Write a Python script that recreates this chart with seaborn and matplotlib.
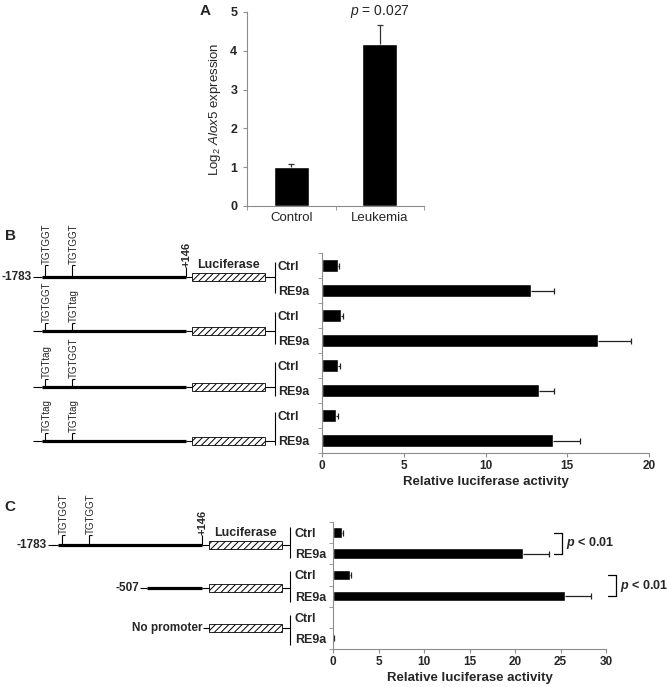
import matplotlib
matplotlib.use("Agg")
import matplotlib.pyplot as plt
import numpy as np
import pandas as pd
import seaborn as sns
from matplotlib.patches import Rectangle

# ---- data -------------------------------------------------------------
# panel A: Alox5 expression
expr_groups = ["Control", "Leukemia"]
expr_values = [1.0, 4.17]
expr_err = [0.08, 0.50]
expr_pval = "0.027"

# panel B: reporter with mutated TGTGGT sites
b_labels = ["Ctrl", "RE9a"] * 4
b_values = [1.0, 12.8, 1.15, 16.9, 1.0, 13.3, 0.85, 14.1]
b_err = [0.05, 1.4, 0.15, 2.0, 0.1, 0.9, 0.1, 1.7]
b_sites = [["TGTGGT", "TGTGGT"], ["TGTGGT", "TGTtag"],
           ["TGTtag", "TGTGGT"], ["TGTtag", "TGTtag"]]

# panel C: promoter deletions
c_labels = ["Ctrl", "RE9a"] * 3
c_values = [1.0, 20.9, 1.85, 25.5, 0.0, 0.1]
c_err = [0.1, 2.8, 0.15, 2.8, 0.0, 0.05]
c_constructs = ["-1783", "-507", "No promoter"]
c_pvals = ["< 0.01", "< 0.01"]

# ---- style ------------------------------------------------------------
sns.set_style("white")
plt.rcParams["font.family"] = ["Liberation Sans", "DejaVu Sans"]
plt.rcParams["mathtext.fontset"] = "custom"
plt.rcParams["mathtext.rm"] = "Liberation Sans"
plt.rcParams["mathtext.it"] = "Liberation Sans:italic"
plt.rcParams["mathtext.bf"] = "Liberation Sans:bold:italic"
plt.rcParams["hatch.linewidth"] = 0.7

W, H = 667, 687
GRAY = "#8c8c8c"
fig = plt.figure(figsize=(W / 100, H / 100), dpi=100)


def px_axes(left, top, right, bottom):
    return fig.add_axes([left / W, 1 - bottom / H, (right - left) / W, (bottom - top) / H])


# overlay in pixel coordinates for the construct diagrams
ov = fig.add_axes([0, 0, 1, 1])
ov.set_xlim(0, W)
ov.set_ylim(H, 0)
ov.axis("off")


def excel_spines(ax):
    sns.despine(ax=ax)
    for s in ("left", "bottom"):
        ax.spines[s].set_color(GRAY)
        ax.spines[s].set_linewidth(0.8)


# ---- panel A ----------------------------------------------------------
ax_a = px_axes(247, 12, 424, 206)
ax_a.set_facecolor("none")
df_a = pd.DataFrame({"group": expr_groups, "value": expr_values})
sns.barplot(data=df_a, x="group", y="value", color="black", saturation=1,
            width=0.4, errorbar=None, ax=ax_a)
# one-sided (upper) error bars
top_a = np.array(expr_values) + np.array(expr_err)
ax_a.vlines(range(len(expr_values)), expr_values, top_a, color="#333333", lw=0.9)
ax_a.plot(range(len(expr_values)), top_a, ls="none", marker="_", ms=4,
          mew=0.9, color="#333333")
ax_a.set_ylim(0, 5)
ax_a.set_xlim(-0.5, 1.5)
excel_spines(ax_a)
ax_a.set_yticks(range(6))
ax_a.set_yticklabels([str(i) for i in range(6)], fontsize=9, fontweight="bold")
ax_a.set_xticks(range(len(expr_groups)))
ax_a.set_xticklabels(expr_groups, fontsize=9.5)
ax_a.set_xticks([-0.5, 0.5, 1.5], minor=True)
ax_a.tick_params(axis="x", which="major", length=0, pad=4)
ax_a.tick_params(axis="x", which="minor", length=3, color=GRAY, direction="out", bottom=True)
ax_a.tick_params(axis="y", length=3, color=GRAY, direction="out", left=True, pad=4)
ax_a.set_xlabel("")
ax_a.set_ylabel(r"Log$_2$ $\mathit{Alox5}$ expression", fontsize=9.5, labelpad=5)
ax_a.text(1, 5.0, r"$\mathit{p}$ = " + expr_pval, ha="center", va="center", fontsize=10)
fig.text(205 / W, 1 - 11 / H, "A", fontsize=11, fontweight="bold", ha="center", va="center")


# ---- bar panels B and C ----------------------------------------------
def lucif_bars(ax, labels, values, err, xmax, label_pad):
    ax.set_facecolor("none")
    pos = np.arange(len(values))
    df = pd.DataFrame({"pos": pos, "value": values})
    sns.barplot(data=df, x="value", y="pos", orient="y", color="black",
                saturation=1, width=0.5, errorbar=None, ax=ax)
    v = np.array(values)
    e = np.array(err)
    keep = e > 0
    ax.hlines(pos[keep], v[keep], v[keep] + e[keep], color="#222222", lw=0.9)
    ax.plot(v[keep] + e[keep], pos[keep], ls="none", marker="|", ms=4,
            mew=0.9, color="#222222")
    ax.set_xlim(0, xmax)
    ax.set_ylim(len(values) - 0.5, -0.5)
    excel_spines(ax)
    ax.set_xticks(range(0, xmax + 1, 5))
    ax.set_xticklabels([str(t) for t in range(0, xmax + 1, 5)],
                       fontsize=8.5, fontweight="bold")
    ax.tick_params(axis="x", length=3, color=GRAY, direction="out", bottom=True, pad=2)
    ax.set_yticks(pos)
    ax.set_yticklabels(labels, fontsize=9, fontweight="bold", ha="left")
    ax.set_yticks(np.arange(-0.5, len(values), 1), minor=True)
    ax.tick_params(axis="y", which="major", length=0, pad=label_pad)
    ax.tick_params(axis="y", which="minor", length=3, color=GRAY, direction="out", left=True)
    ax.set_ylabel("")
    ax.set_xlabel("Relative luciferase activity", fontsize=9.5, fontweight="bold", labelpad=3)


ax_b = px_axes(322, 253, 649, 453)
lucif_bars(ax_b, b_labels, b_values, b_err, 20, 31.7)
fig.text(11 / W, 1 - 236 / H, "B", fontsize=11, fontweight="bold", ha="center", va="center")

ax_c = px_axes(333, 522, 606, 649)
lucif_bars(ax_c, c_labels, c_values, c_err, 30, 27.4)
fig.text(10 / W, 1 - 507 / H, "C", fontsize=11, fontweight="bold", ha="center", va="center")

# significance brackets in C
bracket_x = [25.2, 31.1]
for i, (bx, ptxt) in enumerate(zip(bracket_x, c_pvals)):
    y0, y1 = 2 * i, 2 * i + 1
    ax_c.plot([bx - 0.9, bx, bx, bx - 0.9], [y0, y0, y1, y1], color="black",
              lw=0.9, clip_on=False)
    ax_c.text(bx + 0.4, (y0 + y1) / 2, r"$\mathbf{p}$ " + ptxt, ha="left", va="center",
              fontsize=9, fontweight="bold", clip_on=False)


# ---- construct diagrams ----------------------------------------------
THIN = dict(color="black", lw=0.8, solid_capstyle="butt")


def draw_construct(y, start, thick_from, thick_to, box, br_x, br_span,
                   sites=(), site_x=(), stub=10, plus=False, luc=False, left=None):
    if left:
        ov.text(start - 1, y, left, ha="right", va="center", fontsize=8.5, fontweight="bold")
    if thick_from is not None:
        ov.plot([start, thick_from], [y, y], **THIN)
        ov.plot([thick_from, thick_to], [y, y], color="black", lw=2.3, solid_capstyle="butt")
    ov.plot([thick_to, box[0]], [y, y], **THIN)
    ov.add_patch(Rectangle((box[0], y - 4), box[1] - box[0], 8, facecolor="white",
                           edgecolor="black", lw=0.6, hatch="/////"))
    ov.plot([box[1], br_x], [y, y], **THIN)
    ov.plot([br_x, br_x], br_span, **THIN)
    for name, sx in zip(sites, site_x):
        ov.plot([sx, sx], [y, y - stub], **THIN)
        ov.plot([sx, sx + 3], [y - stub, y - stub], **THIN)
        ov.text(sx + 2, y - stub - 1, name, rotation=90, ha="center", va="bottom", fontsize=7)
    if plus:
        ov.plot([thick_to, thick_to], [y, y - 10], **THIN)
        ov.text(thick_to, y - 10, "+146", rotation=90, ha="center", va="bottom",
                fontsize=8, fontweight="bold")
    if luc:
        ov.text((box[0] + box[1]) / 2, y - 6, "Luciferase", ha="center", va="bottom",
                fontsize=9, fontweight="bold")


b_rows_y = [277, 331, 387, 441]
b_spans = [(262, 293), (312, 344), (362, 396), (412, 445)]
for i, (ry, span, sites) in enumerate(zip(b_rows_y, b_spans, b_sites)):
    draw_construct(ry, 33, 42, 186, (192, 265), 275, span, sites=sites,
                   site_x=(45, 72), stub=12 if i == 0 else 8,
                   plus=(i == 0), luc=(i == 0),
                   left="-1783" if i == 0 else None)

draw_construct(545, 48, 58, 202, (209, 282), 290, (527, 558), sites=("TGTGGT", "TGTGGT"),
               site_x=(62, 89), stub=10, plus=True, luc=True, left=c_constructs[0])
draw_construct(588, 140, 147, 202, (209, 282), 290, (571, 602), left=c_constructs[1])
draw_construct(628, 203, None, 203, (209, 282), 290, (615, 645), left=c_constructs[2])

fig.savefig("out.png", dpi=100)
